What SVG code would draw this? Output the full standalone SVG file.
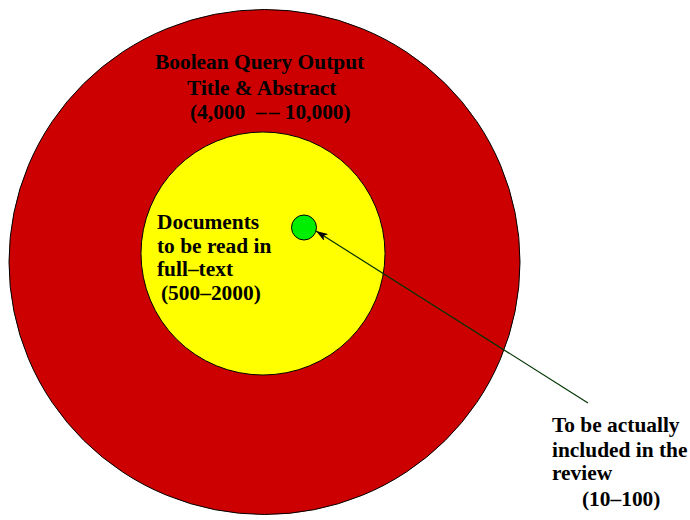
<svg xmlns="http://www.w3.org/2000/svg" width="690" height="520" viewBox="0 0 690 520">
<style>
text{font-family:"Liberation Serif","Times New Roman",serif;font-weight:bold;font-size:21.4px;fill:#000}
.c{stroke:#000;stroke-width:1}
</style>
<defs>
<marker id="ah" viewBox="0 0 12 8" refX="12" refY="4" markerWidth="12" markerHeight="8" markerUnits="userSpaceOnUse" orient="auto">
<path d="M0,0 L12,4 L0,8 L3,4 Z" fill="#000"/>
</marker>
</defs>
<rect width="690" height="520" fill="#fff"/>
<g id="outer">
<ellipse class="c" cx="264.5" cy="262" rx="255.5" ry="252.5" fill="#cc0000"/>
<text x="155" y="69">Boolean Query Output</text>
<text x="187" y="95">Title &amp; Abstract</text>
<text x="190" y="119" xml:space="preserve">(4,000  –<tspan dx="2">–</tspan> 10,000)</text>
</g>
<g id="inner">
<ellipse class="c" cx="263" cy="253.5" rx="122" ry="121.5" fill="#ffff00"/>
<text x="157" y="229">Documents</text>
<text x="157" y="253">to be read in</text>
<text x="157" y="276">full–text</text>
<text x="161" y="300">(500–2000)</text>
</g>
<g id="core">
<circle class="c" cx="304" cy="227.5" r="12.5" fill="#00ee00"/>
</g>
<g id="label">
<text x="552" y="432">To be actually</text>
<text x="552" y="457">included in the</text>
<text x="552" y="480">review</text>
<text x="582" y="506">(10–100)</text>
</g>
<g id="connectors">
<line x1="588" y1="403" x2="316" y2="231" stroke="#003300" stroke-width="1.2" marker-end="url(#ah)"/>
</g>
</svg>
